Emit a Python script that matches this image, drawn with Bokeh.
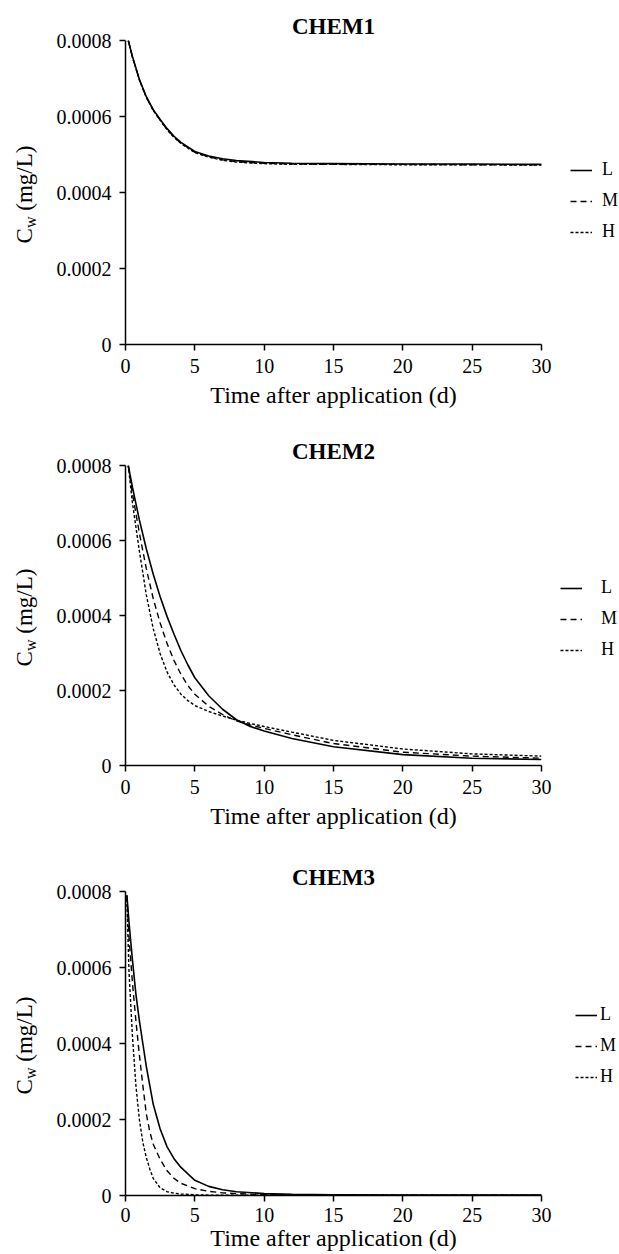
import math
from bokeh.plotting import figure
from bokeh.models import (Range1d, FixedTicker, CustomJSTickFormatter, Legend,
                          LegendItem, Label)
from bokeh.layouts import column, row
from bokeh.embed import file_html
from bokeh.resources import INLINE

FONT = "Liberation Serif"

# ---------------- data ----------------
titles = ["CHEM1", "CHEM2", "CHEM3"]
series_names = ["L", "M", "H"]
x_ticks = [0, 5, 10, 15, 20, 25, 30]
y_ticks = [0, 0.0002, 0.0004, 0.0006, 0.0008]
x_label = "Time after application (d)"

t1 = [0.2, 0.5, 1, 1.5, 2, 2.5, 3, 3.5, 4, 5, 6, 7, 8, 10, 12, 15, 20, 25, 30]
chem1_L = [0.00080, 0.000758, 0.000698, 0.000652, 0.000618, 0.000592, 0.000568,
           0.000548, 0.000532, 0.000508, 0.000496, 0.000489, 0.000484, 0.000479,
           0.000477, 0.000476, 0.000475, 0.000475, 0.000474]
chem1_M = [0.00080, 0.000757, 0.000697, 0.000651, 0.000617, 0.000591, 0.000566,
           0.000546, 0.000530, 0.000506, 0.000494, 0.000486, 0.000481, 0.000477,
           0.000475, 0.000474, 0.000474, 0.000473, 0.000473]
chem1_H = [0.00080, 0.000756, 0.000696, 0.000650, 0.000616, 0.000590, 0.000565,
           0.000545, 0.000529, 0.000505, 0.000493, 0.000485, 0.000480, 0.000476,
           0.000474, 0.000474, 0.000473, 0.000473, 0.000472]

t2 = [0.2, 0.5, 1, 1.5, 2, 2.5, 3, 3.5, 4, 4.5, 5, 6, 7, 8, 9, 10, 12, 15,
      20, 25, 30]
chem2_L = [0.00080, 0.000742, 0.000655, 0.000578, 0.00051, 0.00045, 0.000397,
           0.00035, 0.000306, 0.000268, 0.000234, 0.000186, 0.000150,
           0.000122, 0.000104, 0.000092, 0.000072, 0.000050, 0.000029,
           0.0000195, 0.000016]
chem2_M = [0.00080, 0.000725, 0.00062, 0.000525, 0.000445, 0.00038, 0.000325,
           0.00028, 0.000243, 0.000213, 0.00019, 0.000158, 0.000136,
           0.000119, 0.000108, 0.000099, 0.000082, 0.0000585, 0.0000355,
           0.000025, 0.0000195]
chem2_H = [0.00080, 0.00070, 0.000572, 0.000455, 0.000365, 0.000298, 0.000249,
           0.000215, 0.000190, 0.000173, 0.000160, 0.000144, 0.000132,
           0.000121, 0.000112, 0.000104, 0.000089, 0.000067, 0.000044,
           0.000031, 0.000025]

t3 = [0.1, 0.25, 0.5, 0.75, 1, 1.25, 1.5, 1.75, 2, 2.5, 3, 3.5, 4, 5, 6, 7,
      8, 10, 12, 15, 20, 25, 30]
chem3_L = [0.00079, 0.00072, 0.00062, 0.00053, 0.00046, 0.00040, 0.00034,
           0.00029, 0.00024, 0.000175, 0.000128, 0.000097, 0.000074, 0.000040,
           0.000024, 0.000015, 0.000010, 0.000005, 0.000003, 0.000002,
           0.000001, 0.000001, 0.000001]
chem3_M = [0.00079, 0.00068, 0.00056, 0.00046, 0.00037, 0.00029, 0.000215,
           0.000168, 0.000135, 0.000095, 0.000065, 0.000045, 0.000032,
           0.000018, 0.000011, 0.000007, 0.000005, 0.000002, 0.000001,
           0.000001, 0.000001, 0.000001, 0.000001]
chem3_H = [0.00078, 0.00059, 0.00042, 0.00029, 0.00020, 0.00014, 0.00010,
           0.00007, 0.000045, 0.000020, 0.000010, 0.000006, 0.000004,
           0.000002, 0.000001, 0.000001, 0.000001, 0.000001, 0.000001,
           0.000001, 0.000001, 0.000001, 0.000001]

# ---------------- styling ----------------
dashes = {"L": "solid", "M": "6 4", "H": "3 2"}
widths = {"L": 1.6, "M": 1.4, "H": 1.4}

YL_W = 50      # width of the y-label strip
LEG_W = 66     # width of the legend strip
MAIN_LEFT = 75
MAIN_RIGHT = 12
FRAME_W = 416


def blank_fig(width, height, xr=(0, 1)):
    f = figure(width=width, height=height, x_range=Range1d(*xr),
               y_range=Range1d(0, 0.0008), x_axis_type=None,
               y_axis_type=None, output_backend="svg",
               toolbar_location=None, min_border=0)
    f.outline_line_color = None
    f.xgrid.grid_line_color = None
    f.ygrid.grid_line_color = None
    f.border_fill_color = "white"
    f.background_fill_color = "white"
    return f


def make_panel(title, t, vals, height, top, frame_h, leg_x, leg_y,
               leg_standoff, tick_standoff=8, label_standoff=6):
    bottom = height - top - frame_h
    p = figure(width=MAIN_LEFT + FRAME_W + MAIN_RIGHT, height=height,
               x_range=Range1d(0, 30), y_range=Range1d(0, 0.0008),
               output_backend="svg", toolbar_location=None,
               min_border_left=MAIN_LEFT, min_border_right=MAIN_RIGHT,
               min_border_top=top, min_border_bottom=bottom)
    p.outline_line_color = None
    p.xgrid.grid_line_color = None
    p.ygrid.grid_line_color = None
    p.background_fill_color = "white"
    p.border_fill_color = "white"

    p.title.text = title
    p.title.align = "center"
    p.title.text_font = FONT
    p.title.text_font_size = "23px"
    p.title.text_font_style = "bold"
    p.title.text_color = "black"
    p.title.standoff = 3

    for ax in (p.xaxis[0], p.yaxis[0]):
        ax.axis_line_color = "black"
        ax.axis_line_width = 1.5
        ax.major_tick_line_color = "black"
        ax.major_tick_line_width = 1.5
        ax.major_tick_out = 6
        ax.major_tick_in = 0
        ax.minor_tick_line_color = None
        ax.major_label_text_font = FONT
        ax.major_label_text_font_size = "20px"
        ax.major_label_text_color = "black"

    p.xaxis.ticker = FixedTicker(ticks=x_ticks)
    p.yaxis.ticker = FixedTicker(ticks=y_ticks)
    p.yaxis.formatter = CustomJSTickFormatter(
        code="return tick == 0 ? '0' : tick.toFixed(4);")
    p.xaxis.major_label_standoff = tick_standoff
    p.yaxis.major_label_standoff = 8

    p.xaxis.axis_label = x_label
    p.xaxis.axis_label_text_font = FONT
    p.xaxis.axis_label_text_font_size = "24px"
    p.xaxis.axis_label_text_font_style = "normal"
    p.xaxis.axis_label_text_color = "black"
    p.xaxis.axis_label_standoff = label_standoff

    for name, v in zip(series_names, vals):
        p.line(t, v, line_color="black", line_width=widths[name],
               line_dash=dashes[name])

    # ---- y-axis label strip: "C" with subscript "w", then "(mg/L)" ----
    # (frames in a row are aligned, so screen y is measured from the
    #  bottom of the shared frame)
    yl = blank_fig(YL_W, height)
    start = frame_h / 2 - 51
    ang = math.pi / 2
    yl.add_layout(Label(x=24, y=start, x_units="screen", y_units="screen",
                        text="C", angle=ang, text_align="left",
                        text_baseline="middle", text_font=FONT,
                        text_font_size="23px", text_color="black"))
    yl.add_layout(Label(x=30, y=start + 15.5, x_units="screen",
                        y_units="screen", text="w", angle=ang,
                        text_align="left", text_baseline="middle",
                        text_font=FONT, text_font_size="16px",
                        text_color="black"))
    yl.add_layout(Label(x=24, y=start + 27, x_units="screen", y_units="screen",
                        text="\u00a0(mg/L)", angle=ang, text_align="left",
                        text_baseline="middle", text_font=FONT,
                        text_font_size="23px", text_color="black"))

    # ---- legend strip (series re-drawn outside its visible x-range) ----
    lg = blank_fig(LEG_W, height, xr=(-2, -1))
    items = []
    for name, v in zip(series_names, vals):
        r = lg.line(t, v, line_color="black", line_width=widths[name],
                    line_dash=dashes[name])
        items.append(LegendItem(label=name, renderers=[r]))
    leg = Legend(items=items, location=(leg_x, leg_y),
                 border_line_color=None, background_fill_alpha=0,
                 padding=0, margin=0, spacing=10,
                 glyph_width=22, glyph_height=20, label_height=20,
                 label_standoff=leg_standoff,
                 label_text_font=FONT, label_text_font_size="18px",
                 label_text_color="black")
    lg.add_layout(leg)

    return row(yl, p, lg, spacing=0)


r1 = make_panel(titles[0], t1, [chem1_L, chem1_M, chem1_H],
                height=425, top=40, frame_h=304,
                leg_x=17, leg_y=102, leg_standoff=10)
r2 = make_panel(titles[1], t2, [chem2_L, chem2_M, chem2_H],
                height=425, top=40, frame_h=300,
                leg_x=7, leg_y=105, leg_standoff=19)
r3 = make_panel(titles[2], t3, [chem3_L, chem3_M, chem3_H],
                height=404, top=41, frame_h=304,
                leg_x=22, leg_y=108, leg_standoff=3,
                tick_standoff=6, label_standoff=0)

layout = column(r1, r2, r3, spacing=0)

with open("out.html", "w") as f:
    f.write(file_html(layout, INLINE))
